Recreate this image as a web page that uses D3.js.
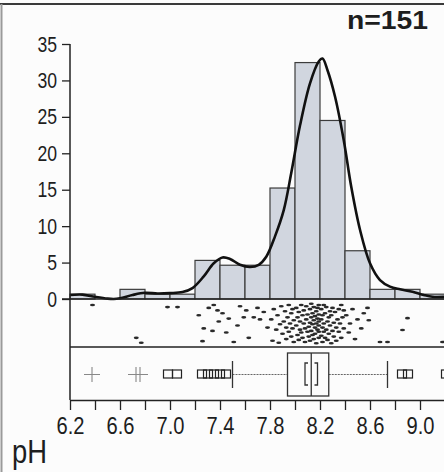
<!DOCTYPE html>
<html><head><meta charset="utf-8">
<script src="https://cdn.jsdelivr.net/npm/d3@7"></script>
<style>
html,body{margin:0;padding:0;background:#fcfcfc;}
svg{display:block;}
text{fill:#1e1e1e;}
</style></head>
<body>
<script>
// ---------- data ----------
const phValues = [
  6.38, 6.73, 6.77, 6.98, 7.06,
  7.23, 7.26, 7.27, 7.31, 7.34, 7.35, 7.38, 7.39,
  7.42, 7.45, 7.47, 7.51, 7.54, 7.56, 7.59,
  7.61, 7.63, 7.67, 7.70, 7.72, 7.75, 7.78,
  7.81, 7.82, 7.83, 7.85, 7.86, 7.87, 7.88, 7.89, 7.90, 7.91, 7.92, 7.93, 7.93, 7.94, 7.95, 7.95, 7.96, 7.97, 7.97, 7.98, 7.98, 7.99, 7.99,
  8.01, 8.01, 8.02, 8.02, 8.03, 8.03, 8.04, 8.04, 8.05, 8.05, 8.06, 8.06, 8.07, 8.07, 8.08, 8.08, 8.09, 8.09, 8.10, 8.10,
  8.11, 8.11, 8.12, 8.12, 8.12, 8.13, 8.13, 8.13, 8.14, 8.14, 8.14, 8.15, 8.15, 8.15, 8.16, 8.16, 8.16, 8.17, 8.17, 8.17,
  8.18, 8.18, 8.18, 8.19, 8.19, 8.19, 8.19, 8.19, 8.19,
  8.21, 8.21, 8.21, 8.22, 8.22, 8.22, 8.23, 8.23, 8.23, 8.24, 8.24, 8.25, 8.25, 8.26, 8.26, 8.27, 8.27, 8.28, 8.28, 8.29,
  8.29, 8.30, 8.30, 8.31, 8.31, 8.32, 8.33, 8.33, 8.34, 8.35, 8.35, 8.36, 8.37, 8.37, 8.38, 8.39, 8.39,
  8.41, 8.43, 8.44, 8.46, 8.48, 8.50, 8.53, 8.55, 8.58, 8.59,
  8.68, 8.74, 8.86, 8.90, 9.18
];
const jitter = [
  0.05, 0.85, 0.97, 0.1, 0.1,
  0.3, 0.93, 0.62, 0.12, 0.68, 0.05, 0.18, 0.45,
  0.25, 0.72, 0.38, 0.95, 0.55, 0.08, 0.35,
  0.18, 0.85, 0.35, 0.12, 0.4, 0.22, 0.6,
  0.4, 0.92, 0.15, 0.65, 0.3, 0.97, 0.52, 0.08, 0.75, 0.45, 0.2, 0.6, 0.88, 0.35, 0.05, 0.7, 0.5, 0.25, 0.82, 0.15, 0.62, 0.42, 0.95,
  0.55, 0.12, 0.78, 0.35, 0.9, 0.22, 0.65, 0.45, 0.05, 0.72, 0.3, 0.85, 0.5, 0.18, 0.62, 0.95, 0.4, 0.08, 0.7, 0.28,
  0.58, 0.82, 0.15, 0.48, 0.92, 0.35, 0.68, 0.02, 0.52, 0.25, 0.78, 0.42, 0.1, 0.88, 0.6, 0.32, 0.75, 0.2, 0.5, 0.98,
  0.38, 0.65, 0.12, 0.85, 0.45, 0.28, 0.7, 0.55, 0.05,
  0.4, 0.8, 0.15, 0.6, 0.95, 0.3, 0.7, 0.05, 0.5, 0.85, 0.25, 0.65, 0.1, 0.45, 0.9, 0.35, 0.75, 0.2, 0.55, 0.98,
  0.3, 0.68, 0.12, 0.48, 0.82, 0.22, 0.6, 0.92, 0.4, 0.15, 0.7, 0.5, 0.05, 0.85, 0.35, 0.62, 0.18,
  0.3, 0.72, 0.5, 0.15, 0.88, 0.4, 0.62, 0.25, 0.12, 0.42,
  0.95, 0.95, 0.66, 0.37, 0.95
];
const binEdges = [6.2, 6.4, 6.6, 6.8, 7.0, 7.2, 7.4, 7.6, 7.8, 8.0, 8.2, 8.4, 8.6, 8.8, 9.0, 9.2];
const densityX = [6.2, 6.3, 6.4, 6.5, 6.55, 6.6, 6.7, 6.8, 6.9, 7.0, 7.1, 7.18, 7.27, 7.35, 7.42, 7.48, 7.56, 7.64, 7.71, 7.77, 7.84, 7.91, 7.97, 8.04, 8.12, 8.19, 8.22, 8.26, 8.32, 8.39, 8.45, 8.52, 8.6, 8.68, 8.76, 8.84, 8.94, 9.03, 9.1, 9.2];
const densityY = [0.55, 0.6, 0.3, 0.05, 0.0, 0.1, 0.55, 0.85, 0.75, 0.8, 0.95, 1.5, 3.1, 4.9, 5.7, 5.5, 4.7, 4.4, 4.7, 5.8, 8.6, 12.2, 17.3, 23.8, 29.6, 32.6, 33.0, 31.4, 27.8, 21.8, 15.4, 9.5, 4.9, 2.6, 1.7, 1.33, 1.0, 0.55, 0.3, 0.3];
const boxStats = {whiskerLo: 7.5, q1: 7.94, median: 8.13, q3: 8.27, whiskerHi: 8.74, ciLo: 8.08, ciHi: 8.18};
const farOutliers = [6.376, 6.728, 6.76];
const nearOutliers = [6.984, 7.056, 7.256, 7.304, 7.352, 7.40, 7.448, 8.856, 8.904, 9.208];
const yTicks = [0, 5, 10, 15, 20, 25, 30, 35];
const xTicks = [6.2, 6.4, 6.6, 6.8, 7.0, 7.2, 7.4, 7.6, 7.8, 8.0, 8.2, 8.4, 8.6, 8.8, 9.0, 9.2];
const xLabelTicks = [6.2, 6.6, 7.0, 7.4, 7.8, 8.2, 8.6, 9.0];
const nLabel = "n=151";
const axisTitle = "pH";

// ---------- layout ----------
const W = 444, H = 472;
const svg = d3.select("body").append("svg").attr("width", W).attr("height", H);
const font = "'Liberation Sans',Arial,sans-serif";

const x = d3.scaleLinear().domain([6.2, 9.2]).range([70, 445]);
const y = d3.scaleLinear().domain([0, 35]).range([299, 44]);
const stripY = d3.scaleLinear().domain([0, 1]).range([303, 344]);
const boxTop = 353, boxBot = 396, boxMid = 374.5;

// frame
svg.append("line").attr("x1", 0).attr("x2", W).attr("y1", 4).attr("y2", 4).attr("stroke", "#3a3a3a").attr("stroke-width", 2);
svg.append("line").attr("x1", 1.5).attr("x2", 1.5).attr("y1", 4).attr("y2", H).attr("stroke", "#9a9a9a").attr("stroke-width", 2);

// histogram (percent)
const bins = d3.bin().domain([6.2, 9.2]).thresholds(binEdges.slice(1, -1))(phValues);
const N = phValues.length;
svg.append("g").selectAll("rect").data(bins.filter(b => b.length > 0)).join("rect")
  .attr("x", d => x(d.x0)).attr("width", d => x(d.x1) - x(d.x0))
  .attr("y", d => y(d.length / N * 100)).attr("height", d => y(0) - y(d.length / N * 100))
  .attr("fill", "#d1d6df").attr("stroke", "#3c3c3c").attr("stroke-width", 1.2);

// density curve
const dens = densityX.map((v, i) => [v, densityY[i]]);
svg.append("path").datum(dens)
  .attr("d", d3.line().x(d => x(d[0])).y(d => y(d[1])).curve(d3.curveCatmullRom.alpha(0.5)))
  .attr("fill", "none").attr("stroke", "#111").attr("stroke-width", 2.6).attr("stroke-linejoin", "round");

// y axis
const yAxis = svg.append("g").attr("transform", "translate(70,0)")
  .call(d3.axisLeft(y).tickValues(yTicks).tickSize(8).tickSizeOuter(0).tickPadding(5));
yAxis.select(".domain").remove();
yAxis.selectAll("line").attr("stroke", "#222").attr("stroke-width", 1.3);
yAxis.selectAll("text").attr("font-family", font).attr("font-size", 22).attr("fill", "#1e1e1e")
  .attr("textLength", d => String(d).length * 9.8).attr("lengthAdjust", "spacingAndGlyphs");

// panel lines
svg.append("line").attr("x1", 70).attr("x2", 70).attr("y1", y(35)).attr("y2", 400).attr("stroke", "#222").attr("stroke-width", 1.5);
svg.append("line").attr("x1", 62).attr("x2", W).attr("y1", y(0)).attr("y2", y(0)).attr("stroke", "#222").attr("stroke-width", 1.6);
svg.append("line").attr("x1", 70).attr("x2", W).attr("y1", 347).attr("y2", 347).attr("stroke", "#222").attr("stroke-width", 1.6);

// jittered strip
svg.append("g").selectAll("ellipse").data(phValues).join("ellipse")
  .attr("cx", d => x(d)).attr("cy", (d, i) => stripY(jitter[i]))
  .attr("rx", 2.5).attr("ry", 1.3).attr("fill", "#2a2a2a");

// box plot
const bp = svg.append("g");
bp.append("line").attr("x1", x(boxStats.whiskerLo)).attr("x2", x(boxStats.q1)).attr("y1", boxMid).attr("y2", boxMid)
  .attr("stroke", "#666").attr("stroke-width", 1).attr("stroke-dasharray", "2,1");
bp.append("line").attr("x1", x(boxStats.q3)).attr("x2", x(boxStats.whiskerHi)).attr("y1", boxMid).attr("y2", boxMid)
  .attr("stroke", "#666").attr("stroke-width", 1).attr("stroke-dasharray", "2,1");
[boxStats.whiskerLo, boxStats.whiskerHi].forEach(v => {
  bp.append("line").attr("x1", x(v)).attr("x2", x(v)).attr("y1", 361).attr("y2", 388).attr("stroke", "#333").attr("stroke-width", 1.3);
});
bp.append("rect").attr("x", x(boxStats.q1)).attr("width", x(boxStats.q3) - x(boxStats.q1))
  .attr("y", boxTop).attr("height", boxBot - boxTop).attr("fill", "none").attr("stroke", "#333").attr("stroke-width", 1.3);
bp.append("line").attr("x1", x(boxStats.median)).attr("x2", x(boxStats.median)).attr("y1", boxTop).attr("y2", boxBot)
  .attr("stroke", "#333").attr("stroke-width", 1.3);
const bx0 = x(boxStats.ciLo), bx1 = x(boxStats.ciHi);
bp.append("path").attr("d", `M${bx0 + 3},363 H${bx0} V385 H${bx0 + 3}`).attr("fill", "none").attr("stroke", "#333").attr("stroke-width", 1.3);
bp.append("path").attr("d", `M${bx1 - 3},363 H${bx1} V385 H${bx1 - 3}`).attr("fill", "none").attr("stroke", "#333").attr("stroke-width", 1.3);

// outliers
bp.selectAll("rect.near").data(nearOutliers).join("rect").attr("class", "near")
  .attr("x", d => x(d) - 4.5).attr("y", 370).attr("width", 9).attr("height", 8)
  .attr("fill", "none").attr("stroke", "#222").attr("stroke-width", 1.2);
bp.selectAll("path.far").data(farOutliers).join("path").attr("class", "far")
  .attr("d", d => `M${x(d) - 8},${boxMid} H${x(d) + 8} M${x(d)},${boxMid - 7.5} V${boxMid + 7.5}`)
  .attr("stroke", "#888").attr("stroke-width", 1.1).attr("fill", "none");

// x axis
const xAxis = svg.append("g").attr("transform", "translate(0,400)")
  .call(d3.axisBottom(x).tickValues(xTicks).tickSize(10).tickSizeOuter(0).tickPadding(7)
    .tickFormat(d => xLabelTicks.some(t => Math.abs(t - d) < 1e-9) ? d3.format(".1f")(d) : ""));
xAxis.select(".domain").attr("stroke", "#222").attr("stroke-width", 1.6);
xAxis.selectAll("line").attr("stroke", "#222").attr("stroke-width", 1.3);
xAxis.selectAll("text").attr("font-family", font).attr("font-size", 24).attr("fill", "#1e1e1e")
  .filter(function() { return this.textContent.length > 0; })
  .attr("textLength", 28).attr("lengthAdjust", "spacingAndGlyphs");

// texts
svg.append("text").attr("x", 428).attr("y", 29).attr("text-anchor", "end")
  .attr("font-family", font).attr("font-weight", "bold").attr("font-size", 25)
  .attr("textLength", 81).attr("lengthAdjust", "spacingAndGlyphs").text(nLabel);
svg.append("text").attr("x", 12).attr("y", 463)
  .attr("font-family", font).attr("font-size", 33)
  .attr("textLength", 35).attr("lengthAdjust", "spacingAndGlyphs").text(axisTitle);
</script>
</body></html>
